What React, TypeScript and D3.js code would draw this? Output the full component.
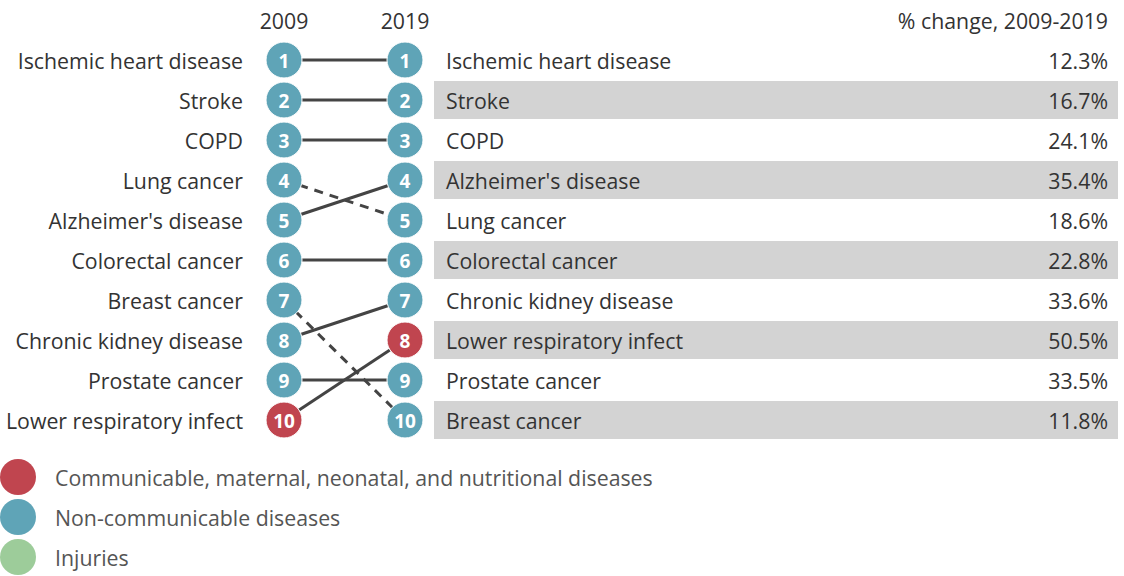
import React from "react";
import * as d3 from "d3";

const causes2009 = [
  "Ischemic heart disease",
  "Stroke",
  "COPD",
  "Lung cancer",
  "Alzheimer's disease",
  "Colorectal cancer",
  "Breast cancer",
  "Chronic kidney disease",
  "Prostate cancer",
  "Lower respiratory infect",
];
const causes2019 = [
  "Ischemic heart disease",
  "Stroke",
  "COPD",
  "Alzheimer's disease",
  "Lung cancer",
  "Colorectal cancer",
  "Chronic kidney disease",
  "Lower respiratory infect",
  "Prostate cancer",
  "Breast cancer",
];
const pctChange2019 = [12.3, 16.7, 24.1, 35.4, 18.6, 22.8, 33.6, 50.5, 33.5, 11.8];
const communicable = ["Lower respiratory infect"];
const legendItems = [
  "Communicable, maternal, neonatal, and nutritional diseases",
  "Non-communicable diseases",
  "Injuries",
];
const legendColors = ["#c0454f", "#5fa4b7", "#9dcc9a"];
const years = ["2009", "2019"];

const W = 1124;
const H = 576;
const FONT = "'Open Sans', sans-serif";
const FS = 21.3;

export default function App() {
  const y = d3.scaleLinear().domain([1, 10]).range([60, 420]);
  const x = d3.scalePoint<string>().domain(years).range([284, 405]);
  const x09 = x("2009")!;
  const x19 = x("2019")!;
  const r = 18;
  const colorOf = (c: string) => (communicable.includes(c) ? legendColors[0] : legendColors[1]);
  const fmt = d3.format(".1f");
  const legendY = d3.scaleLinear().domain([0, 2]).range([477, 557]);
  const barX0 = 434;
  const barX1 = 1118;
  const textColor = "#333";

  return (
    <div style={{ position: "absolute", left: 0, top: 0 }}>
      <svg width={W} height={H} style={{ display: "block", background: "#fff" }} fontFamily={FONT}>
        {years.map((yr) => (
          <text key={yr} x={x(yr)} y={20} textAnchor="middle" dominantBaseline="central" fontSize={FS} fill={textColor}>
            {yr}
          </text>
        ))}
        <text x={1108} y={20} textAnchor="end" dominantBaseline="central" fontSize={FS} fill={textColor}>
          % change, 2009-2019
        </text>
        {causes2019.map((c, i) =>
          i % 2 === 1 ? (
            <rect key={"bar" + c} x={barX0} y={y(i + 1) - 19} width={barX1 - barX0} height={38} fill="#d3d3d3" />
          ) : null
        )}
        {causes2009.map((c, i) => {
          const j = causes2019.indexOf(c);
          const down = j > i;
          return (
            <line
              key={"ln" + c}
              x1={x09}
              y1={y(i + 1)}
              x2={x19}
              y2={y(j + 1)}
              stroke="#444"
              strokeWidth={3}
              strokeDasharray={down ? "9,7" : undefined}
            />
          );
        })}
        {causes2009.map((c, i) => (
          <g key={"l" + c}>
            <text x={243} y={y(i + 1)} textAnchor="end" dominantBaseline="central" fontSize={FS} fill={textColor}>
              {c}
            </text>
            <circle cx={x09} cy={y(i + 1)} r={r} fill={colorOf(c)} stroke="#fff" strokeWidth={1} />
            <text x={x09} y={y(i + 1) + 1} textAnchor="middle" dominantBaseline="central" fontSize={19} fontWeight={700} fill="#fff">
              {i + 1}
            </text>
          </g>
        ))}
        {causes2019.map((c, i) => (
          <g key={"r" + c}>
            <circle cx={x19} cy={y(i + 1)} r={r} fill={colorOf(c)} stroke="#fff" strokeWidth={1} />
            <text x={x19} y={y(i + 1) + 1} textAnchor="middle" dominantBaseline="central" fontSize={19} fontWeight={700} fill="#fff">
              {i + 1}
            </text>
            <text x={446} y={y(i + 1)} dominantBaseline="central" fontSize={FS} fill={textColor}>
              {c}
            </text>
            <text x={1108} y={y(i + 1)} textAnchor="end" dominantBaseline="central" fontSize={FS} fill={textColor}>
              {fmt(pctChange2019[i])}%
            </text>
          </g>
        ))}
        {legendItems.map((t, i) => (
          <g key={"lg" + t}>
            <circle cx={18} cy={legendY(i)} r={18} fill={legendColors[i]} />
            <text x={55} y={legendY(i)} dominantBaseline="central" fontSize={FS} fill="#555">
              {t}
            </text>
          </g>
        ))}
      </svg>
    </div>
  );
}
